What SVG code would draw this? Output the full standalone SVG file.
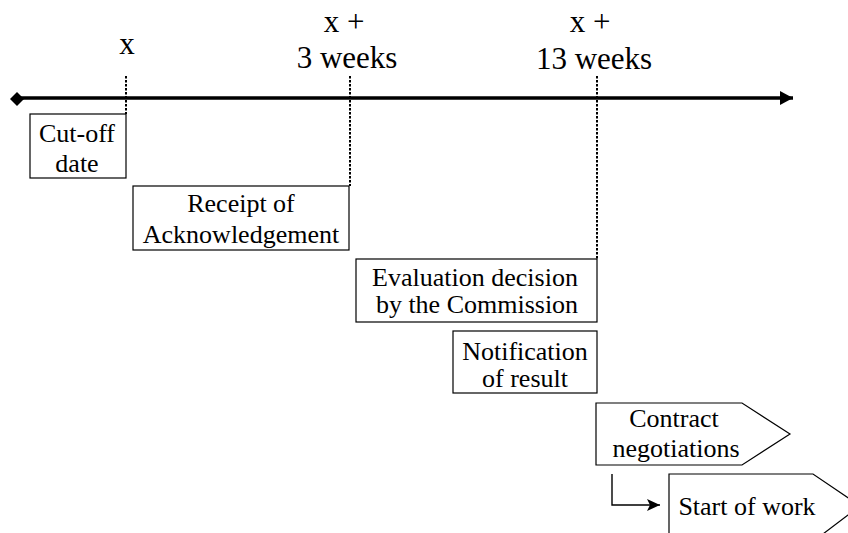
<svg xmlns="http://www.w3.org/2000/svg" width="848" height="533" viewBox="0 0 848 533">
<style>
  text { font-family: "Liberation Serif", "Times New Roman", serif; fill: #000; text-anchor: middle; }
  .lbl { font-size: 31px; }
  .box { font-size: 26px; }
  .frame { fill: #fff; stroke: #000; stroke-width: 1.2; }
  .dot { stroke: #000; stroke-width: 2; stroke-dasharray: 2.5 1.5; fill: none; }
</style>
<defs>
  <marker id="bigArrow" markerWidth="14" markerHeight="14" refX="13" refY="7" orient="auto" markerUnits="userSpaceOnUse">
    <path d="M0,0 L13,7 L0,14 Z" fill="#000"/>
  </marker>
  <marker id="smallArrow" markerWidth="14" markerHeight="12" refX="13" refY="6" orient="auto" markerUnits="userSpaceOnUse">
    <path d="M0,0 L13,6 L0,12 L3,6 Z" fill="#000"/>
  </marker>
</defs>
<rect width="848" height="533" fill="#fff"/>

<g id="timeline">
  <line x1="17" y1="98" x2="793" y2="98" stroke="#000" stroke-width="3.5" marker-end="url(#bigArrow)"/>
  <path d="M10,99 L17,92 L24,99 L17,106 Z" fill="#000"/>
  <text class="lbl" x="127" y="54">x</text>
  <text class="lbl" x="344" y="32">x +</text>
  <text class="lbl" x="347" y="68">3 weeks</text>
  <text class="lbl" x="590" y="32">x +</text>
  <text class="lbl" x="594" y="69">13 weeks</text>
</g>

<g id="connectors">
  <line class="dot" x1="126" y1="76" x2="126" y2="114"/>
  <line class="dot" x1="350" y1="76" x2="350" y2="186"/>
  <line class="dot" x1="597" y1="76" x2="597" y2="259"/>
  <path d="M612,474 L612,505 L660,505" fill="none" stroke="#000" stroke-width="1.4" marker-end="url(#smallArrow)"/>
</g>

<g id="cutoff">
  <rect class="frame" x="30" y="114" width="96" height="64"/>
  <text class="box" x="77" y="142">Cut-off</text>
  <text class="box" x="77" y="172">date</text>
</g>

<g id="receipt">
  <rect class="frame" x="133" y="186" width="216" height="64"/>
  <text class="box" x="241" y="212">Receipt of</text>
  <text class="box" x="241" y="243">Acknowledgement</text>
</g>

<g id="evaluation">
  <rect class="frame" x="356" y="259" width="241" height="63"/>
  <text class="box" x="475" y="286">Evaluation decision</text>
  <text class="box" x="477" y="313">by the Commission</text>
</g>

<g id="notification">
  <rect class="frame" x="453" y="331" width="144" height="62"/>
  <text class="box" x="525" y="360">Notification</text>
  <text class="box" x="525" y="387">of result</text>
</g>

<g id="contract">
  <path class="frame" d="M596,403 L742,403 L790,434 L742,465 L596,465 Z"/>
  <text class="box" x="674" y="427">Contract</text>
  <text class="box" x="676" y="457">negotiations</text>
</g>

<g id="start">
  <path class="frame" d="M669,540 L669,474 L813,474 L860,506 L815,540"/>
  <text class="box" x="747" y="515">Start of work</text>
</g>
</svg>
